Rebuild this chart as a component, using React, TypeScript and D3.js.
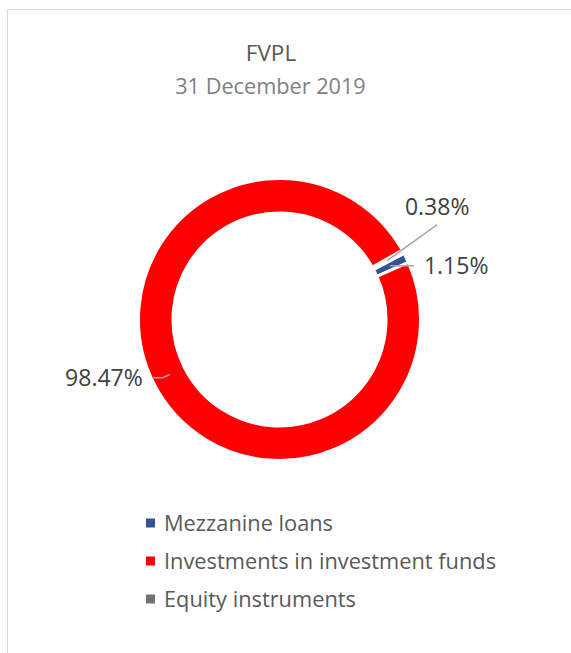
import React from "react";
import * as d3 from "d3";

// chart data
const categories = ["Mezzanine loans", "Investments in investment funds", "Equity instruments"];
const shares = [1.15, 98.47, 0.38];
const sliceColors = ["#2F5597", "#FF0000", "#767171"];
const valueLabels = ["1.15%", "98.47%", "0.38%"];
const chartTitle = "FVPL";
const chartSubtitle = "31 December 2019";

const W = 571;
const H = 653;

const App: React.FC = () => {
  const cx = 279.5;
  const cy = 319.5;
  const outerR = 141;
  const innerR = 106.5;
  const startAngle = (62 / 180) * Math.PI;

  const pie = d3
    .pie<number>()
    .sort(null)
    .value((d) => d)
    .startAngle(startAngle)
    .endAngle(startAngle + 2 * Math.PI);
  const arcs = pie(shares);

  const arc = d3.arc<d3.PieArcDatum<number>>().innerRadius(innerR).outerRadius(outerR);
  const midArc = d3
    .arc<d3.PieArcDatum<number>>()
    .innerRadius((innerR + outerR) / 2 - 1)
    .outerRadius((innerR + outerR) / 2 - 1);

  // label layout per slice: leader polyline offsets from centroid, text anchor
  const labelLayout = [
    { pts: [[0, 0], [24, 0]], tx: 34, ty: 8.5, anchor: "start" },
    { pts: [[0, 0], [-7, 3.3], [-18, 3.3]], tx: -27, ty: 12, anchor: "end" },
    { pts: [[0, 0], [50, -36]], tx: 50, ty: -46, anchor: "middle" },
  ];

  const legendY = d3.scalePoint<string>().domain(categories).range([530.5, 606.5]);

  const font = "'Open Sans', 'Liberation Sans', sans-serif";

  return (
    <div style={{ position: "fixed", left: 0, top: 0, width: W, height: H, background: "#fff" }}>
      <svg width={W} height={H} style={{ display: "block" }}>
        <rect x={7.5} y={9.5} width={W} height={H} fill="#fff" stroke="#d9d9d9" strokeWidth={1} />

        <text x={271} y={61} textAnchor="middle" fontFamily={font} fontSize={22.5} fill="#595959">
          {chartTitle}
        </text>
        <text x={270.5} y={94} textAnchor="middle" fontFamily={font} fontSize={21.7} fill="#7f7f7f">
          {chartSubtitle}
        </text>

        <g transform={`translate(${cx},${cy})`}>
          {arcs.map((a, i) => (
            <path key={i} d={arc(a) || ""} fill={sliceColors[i]} stroke="#fff" strokeWidth={3} />
          ))}
        </g>

        {arcs.map((a, i) => {
          const [mx, my] = midArc.centroid(a);
          const px = cx + mx;
          const py = cy + my;
          const lay = labelLayout[i];
          const line = d3.line()(lay.pts.map(([dx, dy]) => [px + dx, py + dy] as [number, number]));
          return (
            <g key={i}>
              <path d={line || ""} fill="none" stroke="#a6a6a6" strokeWidth={1.5} />
              <text
                x={px + lay.tx}
                y={py + lay.ty}
                textAnchor={lay.anchor as any}
                fontFamily={font}
                fontSize={23}
                fill="#404040"
              >
                {valueLabels[i]}
              </text>
            </g>
          );
        })}

        {categories.map((c, i) => {
          const y = legendY(c) as number;
          return (
            <g key={c}>
              <rect x={146} y={y - 12} width={9} height={9} fill={sliceColors[i]} />
              <text x={164} y={y} fontFamily={font} fontSize={21.8} fill="#595959">
                {c}
              </text>
            </g>
          );
        })}
      </svg>
    </div>
  );
};

export default App;
